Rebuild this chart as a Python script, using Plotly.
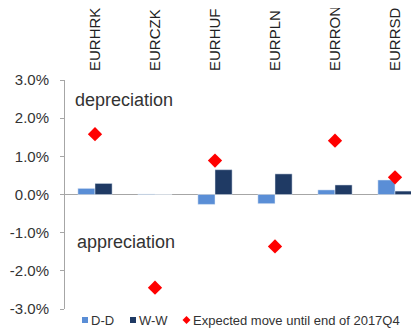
import plotly.graph_objects as go

categories = ["EURHRK", "EURCZK", "EURHUF", "EURPLN", "EURRON", "EURRSD"]
dd = [0.16, 0.01, -0.26, -0.24, 0.12, 0.38]
ww = [0.29, 0.0, 0.65, 0.54, 0.25, 0.09]
expected = [1.58, -2.44, 0.89, -1.36, 1.41, 0.45]
ytick_vals = [3, 2, 1, 0, -1, -2, -3]
ytick_text = ["3.0%", "2.0%", "1.0%", "0.0%", "-1.0%", "-2.0%", "-3.0%"]
series_names = ["D-D", "W-W", "Expected move until end of 2017Q4"]
series_colors = ["#5A8ED6", "#1F3A64", "#FF0000"]

FONT = "Arial, Liberation Sans, sans-serif"
TXT = "#333333"

fig = go.Figure()
fig.add_trace(go.Bar(x=categories, y=dd, name=series_names[0], marker_color=series_colors[0]))
fig.add_trace(go.Bar(x=categories, y=ww, name=series_names[1], marker_color=series_colors[1]))
fig.add_trace(go.Scatter(x=categories, y=expected, mode="markers", name=series_names[2],
                         marker=dict(symbol="diamond", size=11, color=series_colors[2])))

# the page body adds an 8px offset, so the figure is 8px smaller than the window
W, H = 354.0, 229.0
def px_x(p):
    return (p - 65) / W
def px_y(p):
    return (309 - p) / H

ly = px_y(320)
shapes = [
    dict(type="rect", xref="paper", yref="paper", x0=px_x(82), x1=px_x(88),
         y0=px_y(317), y1=px_y(323), fillcolor=series_colors[0], line_width=0),
    dict(type="rect", xref="paper", yref="paper", x0=px_x(130), x1=px_x(136),
         y0=px_y(317), y1=px_y(323), fillcolor=series_colors[1], line_width=0),
    dict(type="path", xref="paper", yref="paper",
         path=(f"M {px_x(182.5)} {ly} L {px_x(186.5)} {px_y(316)} "
               f"L {px_x(190.5)} {ly} L {px_x(186.5)} {px_y(324)} Z"),
         fillcolor=series_colors[2], line_width=0),
]
legend_x = [90, 138, 192]
annotations = [
    dict(x=px_x(73), xref="paper", y=2.47, yref="y", text="depreciation",
         showarrow=False, xanchor="left", yanchor="middle", font=dict(size=18, color=TXT)),
    dict(x=px_x(75), xref="paper", y=-1.25, yref="y", text="appreciation",
         showarrow=False, xanchor="left", yanchor="middle", font=dict(size=18, color=TXT)),
]
for name, lx in zip(series_names, legend_x):
    annotations.append(dict(x=px_x(lx), xref="paper", y=ly, yref="paper", text=name,
                            showarrow=False, xanchor="left", yanchor="middle",
                            xshift=-1, font=dict(size=13, color=TXT)))

fig.update_layout(
    width=411, height=323,
    margin=dict(l=57, r=0, t=72, b=22, autoexpand=False),
    paper_bgcolor="white", plot_bgcolor="white",
    font=dict(family=FONT, color=TXT, size=13),
    barmode="group", bargap=0.43, bargroupgap=0,
    showlegend=False,
    shapes=shapes,
    annotations=annotations,
)
fig.update_xaxes(side="top", tickangle=-90, range=[-0.5, 5.4], showline=False,
                 showgrid=False, ticks="", tickfont=dict(size=15, color="#222222"),
                 ticklabelstandoff=8, automargin=False)
fig.update_yaxes(range=[-3, 3], tickvals=ytick_vals, ticktext=ytick_text,
                 showgrid=False, showline=True, linecolor="#A6A6A6", linewidth=1,
                 ticks="outside", ticklen=4, tickcolor="#A6A6A6",
                 zeroline=True, zerolinecolor="#A6A6A6", zerolinewidth=1,
                 tickfont=dict(size=15, color=TXT), ticklabelstandoff=8,
                 automargin=False)

fig.write_html("out.html")
